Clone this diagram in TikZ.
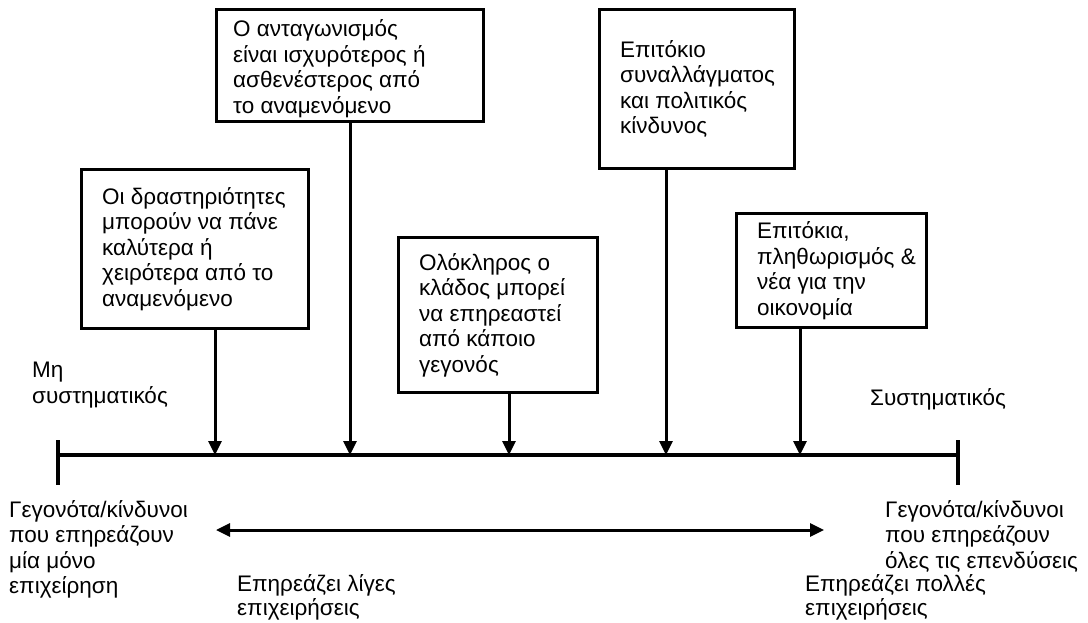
\documentclass[tikz,border=0pt]{standalone}
\usepackage{fontspec}
\setmainfont{Liberation Sans}
\usetikzlibrary{arrows.meta}
\begin{document}
\begin{tikzpicture}[x=1pt,y=-1pt,
  box/.style={draw,line width=3pt,anchor=north west,inner sep=0pt},
  txt/.style={anchor=west,inner sep=0pt,align=left,xshift=22pt,font=\fontsize{22.5}{25.5}\selectfont},
  lbl/.style={anchor=north west,inner sep=0pt,align=left,font=\fontsize{22.5}{25.5}\selectfont},
  axis/.style={line width=4pt},
  down/.style={line width=3pt,-{Triangle[length=14pt,width=13pt]}},
  dbl/.style={line width=3pt,{Triangle[length=14pt,width=13pt]}-{Triangle[length=14pt,width=13pt]}}]
\useasboundingbox (0,0) rectangle (1088,622);
% boxes
\node[box,minimum width=227pt,minimum height=159pt] (b1) at (80,168) {};
\node[txt] (t1) at (b1.west) {Οι δραστηριότητες\\μπορούν να πάνε\\καλύτερα ή\\χειρότερα από το\\αναμενόμενο};
\node[box,minimum width=267pt,minimum height=112pt] (b2) at (215,8) {};
\node[txt,xshift=-4pt] (t2) at ([yshift=-3pt]b2.west) {Ο ανταγωνισμός\\είναι ισχυρότερος ή\\ασθενέστερος από\\το αναμενόμενο};
\node[box,minimum width=199pt,minimum height=155pt] (b3) at (397,236) {};
\node[txt] (t3) at (b3.west) {Ολόκληρος ο\\κλάδος μπορεί\\να επηρεαστεί\\από κάποιο\\γεγονός};
\node[box,minimum width=195pt,minimum height=159pt] (b4) at (598,8) {};
\node[txt] (t4) at (b4.west) {Επιτόκιο\\συναλλάγματος\\και πολιτικός\\κίνδυνος};
\node[box,minimum width=190pt,minimum height=114pt] (b5) at (735,212) {};
\node[txt] (t5) at (b5.west) {Επιτόκια,\\πληθωρισμός \&\\νέα για την\\οικονομία};
% axis
\coordinate (L) at (58,455);
\coordinate (R) at (958,455);
\draw[axis] (L) -- (R);
\draw[axis] (58,440) -- (58,485);
\draw[axis] (958,440) -- (958,485);
% arrows down
\coordinate (a1) at (215,455);
\coordinate (a2) at (350,455);
\coordinate (a3) at (509,455);
\coordinate (a4) at (666,455);
\coordinate (a5) at (800,455);
\draw[down] (b1.south -| a1) -- (a1);
\draw[down] (b2.south -| a2) -- (a2);
\draw[down] (b3.south -| a3) -- (a3);
\draw[down] (b4.south -| a4) -- (a4);
\draw[down] (b5.south -| a5) -- (a5);
% double arrow
\coordinate (dl) at (216,530);
\coordinate (dr) at (824,530);
\draw[dbl] (dl) -- (dr);
% labels
\node[lbl] (mh) at (32,362) {Μη\\συστηματικός};
\node[lbl] (sy) at (870,388) {Συστηματικός};
\node[lbl] (gl) at (9,500) {Γεγονότα/κίνδυνοι\\που επηρεάζουν\\μία μόνο\\επιχείρηση};
\node[lbl] (gr) at (885,500) {Γεγονότα/κίνδυνοι\\που επηρεάζουν\\όλες τις επενδύσεις};
\node[lbl,font=\fontsize{22.5}{24}\selectfont] (el) at (237,574) {Επηρεάζει λίγες\\επιχειρήσεις};
\node[lbl,font=\fontsize{22.5}{24}\selectfont] (er) at (805,574) {Επηρεάζει πολλές\\επιχειρήσεις};
\end{tikzpicture}
\end{document}
